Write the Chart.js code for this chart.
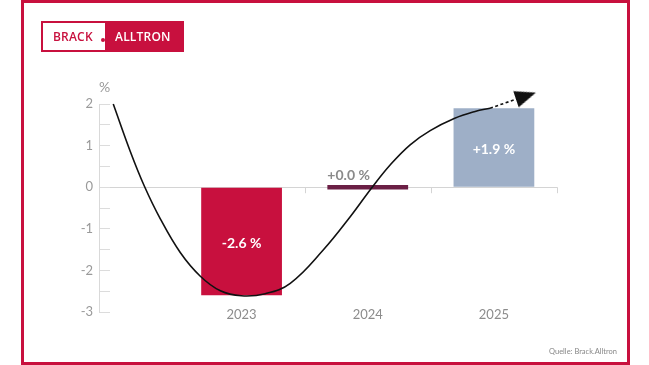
<!DOCTYPE html>
<html>
<head>
    <meta charset="utf-8">
    <script src="https://cdn.jsdelivr.net/npm/chart.js@4.4.1/dist/chart.umd.min.js"></script>
    <style>
        body { margin: 0; background: #fff; width: 649px; height: 365px; overflow: hidden; position: relative; }
        #frame { position: absolute; left: 21px; top: 0; width: 609px; height: 365px; box-sizing: border-box; border: 3px solid #c8103e; }
        #logo { position: absolute; left: 41px; top: 21px; height: 31px; display: flex; font-family: "Open Sans", sans-serif; font-weight: 600; font-size: 12px; letter-spacing: 0.2px; }
        #logo .l { box-sizing: border-box; width: 64px; height: 31px; border: 2px solid #c8103e; border-right: none; background: #fff; color: #c8103e; padding-left: 10px; line-height: 27px; }
        #logo .r { box-sizing: border-box; width: 79px; height: 31px; background: #c8103e; color: #fff; padding-left: 10px; line-height: 31px; }
        #logo .dot { position: absolute; left: 60px; top: 17px; width: 4px; height: 4px; border-radius: 50%; background: #c8103e; }
        #unit { position: absolute; left: 99px; top: 78px; font-family: Lato, sans-serif; font-size: 14px; color: #999; }
        #source { position: absolute; left: 549px; top: 347px; font-family: Lato, sans-serif; font-size: 7.5px; color: #888; }
        #chart { position: absolute; left: 0; top: 0; }
    </style>
</head>
<body>
    <canvas id="chart" width="649" height="365"></canvas>
    <div id="frame"></div>
    <div id="logo"><span class="l">BRACK</span><span class="dot"></span><span class="r">ALLTRON</span></div>
    <div id="unit">%</div>
    <div id="source">Quelle: Brack.Alltron</div>
    <script>
        // chart values
        const years = ['2023', '2024', '2025'];
        const growth = [-2.6, 0.0, 1.9];
        const growthLabels = ['-2.6 %', '+0.0 %', '+1.9 %'];
        const barColors = ['#c8103e', '#6b1f45', '#9eafc7'];
        const labelColors = ['#ffffff', '#8a8a8a', '#ffffff'];

        // hand-drawn trend curve (x = year index)
        const trendX = [-1.017, -0.882, -0.771, -0.644, -0.486, -0.327, -0.168, -0.002, 0.188, 0.386, 0.647, 0.861, 1.035, 1.179, 1.336, 1.495, 1.685, 1.851, 1.969];
        const trendY = [2.0, 0.86, 0.03, -0.76, -1.57, -2.14, -2.49, -2.61, -2.56, -2.31, -1.51, -0.71, 0.0, 0.54, 1.02, 1.36, 1.65, 1.82, 1.9];
        const arrowX = [1.969, 2.25];
        const arrowY = [1.9, 2.19];

        const yMin = -3, yMax = 2, yStep = 0.5;
        const xMin = -1.13, xMax = 2.5;

        Chart.defaults.font.family = 'Lato, sans-serif';

        // arrow head picture used as point style
        const arrowHead = document.createElement('canvas');
        arrowHead.width = 24; arrowHead.height = 24;
        const ah = arrowHead.getContext('2d');
        ah.fillStyle = '#111';
        ah.beginPath();
        ah.moveTo(23, 12); ah.lineTo(2, 3.5); ah.lineTo(2, 20.5); ah.closePath();
        ah.fill();

        const barLabelPlugin = {
            id: 'barLabels',
            afterDatasetsDraw(chart) {
                const ctx = chart.ctx;
                const meta = chart.getDatasetMeta(2);
                const xs = chart.scales.x, ys = chart.scales.y;
                const zeroY = ys.getPixelForValue(0);

                // little ticks between years on the zero line
                ctx.save();
                ctx.strokeStyle = '#d4d4d4';
                ctx.lineWidth = 1;
                [0.5, 1.5, 2.5].forEach(v => {
                    const px = Math.round(xs.getPixelForValue(v)) + 0.5;
                    ctx.beginPath();
                    ctx.moveTo(px, zeroY);
                    ctx.lineTo(px, zeroY + 6);
                    ctx.stroke();
                });

                ctx.font = 'bold 14px Lato, sans-serif';
                ctx.textBaseline = 'middle';
                meta.data.forEach((bar, i) => {
                    ctx.fillStyle = labelColors[i];
                    if (growth[i] === 0) {
                        ctx.textAlign = 'left';
                        ctx.fillText(growthLabels[i], bar.x - bar.width / 2, zeroY - 12);
                    } else {
                        ctx.textAlign = 'center';
                        ctx.fillText(growthLabels[i], bar.x, (bar.y + bar.base) / 2 + 2);
                    }
                });
                ctx.restore();
            }
        };

        const ctx = document.getElementById('chart').getContext('2d');
        const chart = new Chart(ctx, {
            type: 'bar',
            data: {
                datasets: [
                    {
                        type: 'line',
                        data: trendX.map((x, i) => ({ x: x, y: trendY[i] })),
                        borderColor: '#111',
                        borderWidth: 1.6,
                        pointRadius: 0,
                        tension: 0.4,
                        fill: false,
                        clip: false,
                        order: 1
                    },
                    {
                        type: 'line',
                        data: arrowX.map((x, i) => ({ x: x, y: arrowY[i] })),
                        borderColor: '#111',
                        borderWidth: 1.6,
                        borderDash: [3, 2.5],
                        pointRadius: [0, 12],
                        pointBorderWidth: 0,
                        pointStyle: arrowHead,
                        rotation: -18.4,
                        fill: false,
                        clip: false,
                        order: 1
                    },
                    {
                        data: years.map((y, i) => ({ x: i, y: growth[i] })),
                        backgroundColor: barColors,
                        barPercentage: 0.64,
                        categoryPercentage: 1,
                        minBarLength: 4.5,
                        order: 3
                    }
                ]
            },
            options: {
                responsive: false,
                animation: false,
                devicePixelRatio: 1,
                layout: { padding: { top: 104, right: 92, left: 0, bottom: 0 } },
                plugins: { legend: { display: false }, tooltip: { enabled: false } },
                scales: {
                    x: {
                        type: 'linear',
                        min: xMin,
                        max: xMax,
                        offset: false,
                        grid: { display: false, drawTicks: false, offset: false },
                        border: { display: false },
                        afterBuildTicks: s => { s.ticks = years.map((y, i) => ({ value: i })); },
                        afterFit: s => { s.height = 53; },
                        ticks: {
                            mirror: true,
                            padding: -11,
                            color: '#8c8c8c',
                            font: { size: 13 },
                            callback: v => years[v]
                        }
                    },
                    y: {
                        min: yMin,
                        max: yMax,
                        afterFit: s => { s.width = 99; },
                        border: { display: true, color: '#d9d9d9', width: 1 },
                        grid: {
                            color: c => c.tick.value === 0 ? '#d4d4d4' : 'rgba(0,0,0,0)',
                            tickColor: '#dcdcdc',
                            tickLength: -11,
                            drawTicks: true
                        },
                        ticks: {
                            stepSize: yStep,
                            padding: 17,
                            color: '#9a9a9a',
                            font: { size: 13 },
                            callback: v => Number.isInteger(v) ? String(v) : ''
                        }
                    }
                }
            },
            plugins: [barLabelPlugin]
        });
    </script>
</body>
</html>
